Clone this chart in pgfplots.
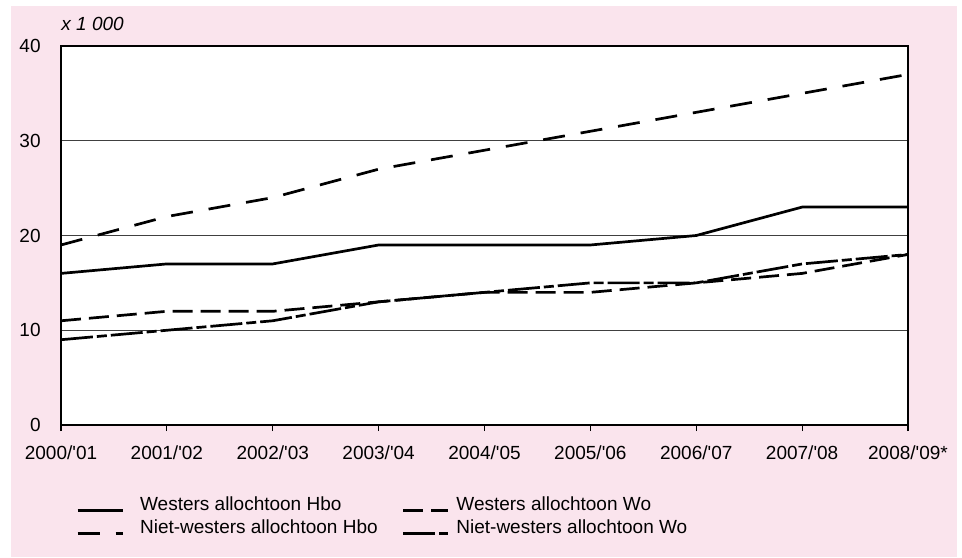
\documentclass[border=0pt]{standalone}
\usepackage{pgfplots}
\pgfplotsset{compat=1.18}
\usepackage{fontspec}
\setmainfont{Liberation Sans}
\definecolor{bgpink}{RGB}{250,228,237}
\newcommand{\q}{\textquotesingle}

\begin{document}
\begin{tikzpicture}[font=\fontsize{9.5}{11}\selectfont]
% achtergrond
\fill[white] (-30.5pt,-66pt) rectangle (450.5pt,212.5pt);
\useasboundingbox (-30.5pt,-66pt) rectangle (450.5pt,212.5pt);
\fill[bgpink] (-25pt,-66pt) rectangle (448pt,209.5pt);
\begin{axis}[
    at={(0,0)}, anchor=south west,
    scale only axis,
    width=423.5pt, height=189.5pt,
    xmin=0, xmax=8, ymin=0, ymax=40,
    clip=false,
    axis background/.style={fill=white},
    axis line style={black, line width=0.8pt},
    xtick={0,...,8},
    xticklabels={2000/\q01, 2001/\q02, 2002/\q03, 2003/\q04, 2004/\q05, 2005/\q06, 2006/\q07, 2007/\q08, 2008/\q09*},
    ytick={0,10,20,30,40},
    xtick pos=lower, ytick pos=left,
    tick align=outside,
    major tick length=3pt,
    xtick style={black, line width=0.6pt},
    ytick style={draw=none},
    ymajorgrids,
    grid style={black!75, line width=0.5pt},
    /pgf/number format/assume math mode=true,
    xticklabel style={anchor=north, inner sep=0pt, yshift=-7pt},
    yticklabel style={anchor=east, inner sep=0pt, xshift=-7pt},
    legend columns=2,
    legend image code/.code={\draw[#1] (0pt,0pt) -- (22.5pt,0pt);},
    legend style={at={(0,0)}, anchor=north west, xshift=7.5pt, yshift=-35.5pt,
        draw=none, fill=none, inner sep=0pt,
        nodes={inner sep=0pt, text height=7pt, text depth=2pt, anchor=base west},
        row sep=2.5pt,
        /tikz/column 1/.style={column sep=8pt},
        /tikz/column 2/.style={column sep=12pt},
        /tikz/column 3/.style={column sep=3.5pt}},
]
% Westers allochtoon Hbo
\addplot[black, line width=1.35pt] coordinates {
    (0,16) (1,17) (2,17) (3,19) (4,19) (5,19) (6,20) (7,23) (8,23)
};
% Westers allochtoon Wo
\addplot[black, line width=1.35pt, dash pattern=on 10pt off 4pt] coordinates {
    (0,11) (1,12) (2,12) (3,13) (4,14) (5,14) (6,15) (7,16) (8,18)
};
% Niet-westers allochtoon Hbo
\addplot[black, line width=1.35pt, dash pattern=on 11pt off 8pt] coordinates {
    (0,19) (1,22) (2,24) (3,27) (4,29) (5,31) (6,33) (7,35) (8,37)
};
% Niet-westers allochtoon Wo
\addplot[black, line width=1.35pt, dash pattern=on 16pt off 2pt on 5pt off 2pt] coordinates {
    (0,9) (1,10) (2,11) (3,13) (4,14) (5,15) (6,15) (7,17) (8,18)
};
\legend{Westers allochtoon Hbo, Westers allochtoon Wo, Niet-westers allochtoon Hbo, Niet-westers allochtoon Wo}
\node[anchor=base west, inner sep=0pt, font=\fontsize{9.5}{11}\selectfont\itshape]
    at (rel axis cs:0,1) [yshift=8pt] {x 1 000};
\end{axis}
\end{tikzpicture}
\end{document}
